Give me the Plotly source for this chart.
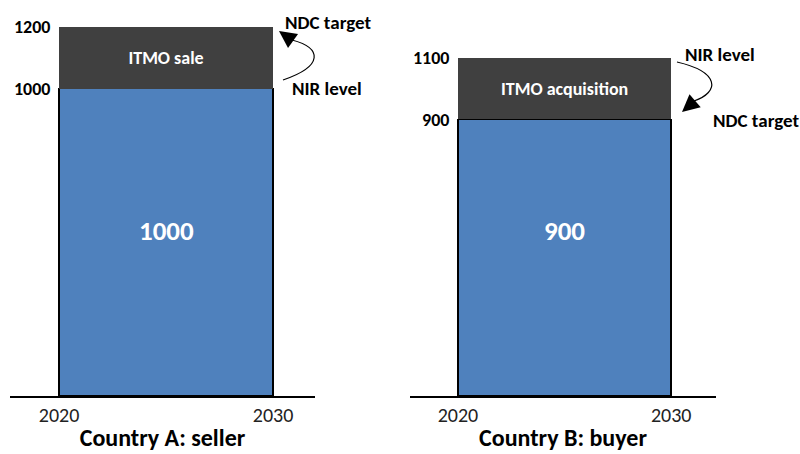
import plotly.graph_objects as go

# ---- data ----
years = [2020, 2030]
seller_base = [1000]
seller_itmo = [200]
buyer_base = [900]
buyer_itmo = [200]
seller_ticks = [1000, 1200]
buyer_ticks = [900, 1100]
seller_labels = ["ITMO sale", "1000"]
buyer_labels = ["ITMO acquisition", "900"]
titles = ["Country A: seller", "Country B: buyer"]

FONT = "Carlito, Calibri, Lato, sans-serif"
BLUE = "#4F81BD"
GRAY = "#404040"
W, H = 800, 454

def px(x):
    return x / W

def py(y):
    return 1 - y / H

xc = (years[0] + years[1]) / 2
bw = years[1] - years[0]

fig = go.Figure()

def add_panel(base, itmo, labels, xa, ya):
    fig.add_trace(go.Bar(
        x=[xc], y=base, width=bw, xaxis=xa, yaxis=ya,
        marker=dict(color=BLUE, line=dict(color="black", width=1.5)),
        hoverinfo="skip", showlegend=False))
    fig.add_trace(go.Bar(
        x=[xc], y=itmo, width=bw, xaxis=xa, yaxis=ya,
        marker=dict(color=GRAY, line=dict(color=GRAY, width=0)),
        text=[labels[0]], textposition="inside", insidetextanchor="middle",
        textfont=dict(family=FONT, size=18, color="white", weight="bold"),
        hoverinfo="skip", showlegend=False))
    # big value label inside the blue bar
    fig.add_annotation(text=labels[1], x=xc, xref=xa, y=py(231), yref="paper",
                       showarrow=False, xanchor="center", yanchor="middle",
                       font=dict(family=FONT, size=27, color="white", weight="bold"))

add_panel(seller_base, seller_itmo, seller_labels, "x", "y")
add_panel(buyer_base, buyer_itmo, buyer_labels, "x2", "y2")

ydom = [py(396), 1.0]
yrange = [0, 1200 * 396 / 369]

xcommon = dict(showgrid=False, zeroline=False, showline=True, linecolor="black", linewidth=1.5,
               ticks="", tickvals=years, ticktext=[str(v) for v in years], automargin=False,
               tickfont=dict(family=FONT, size=20, color="#222"))
ycommon = dict(domain=ydom, range=yrange, anchor="free", automargin=False,
               showgrid=False, zeroline=False, showline=False,
               ticks="outside", ticklen=5, tickcolor="rgba(0,0,0,0)",
               tickfont=dict(family=FONT, size=18, color="black", weight="bold"))
tfont = dict(family=FONT, size=24, color="black", weight="bold")

fig.update_layout(
    barmode="stack",
    width=W, height=H,
    margin=dict(l=0, r=0, t=0, b=0),
    paper_bgcolor="white", plot_bgcolor="white",
    xaxis=dict(domain=[px(10), px(315)], range=[2017.71, 2031.96], anchor="y",
               title=dict(text=titles[0], font=tfont, standoff=3), **xcommon),
    xaxis2=dict(domain=[px(410), px(716)], range=[2017.75, 2032.1], anchor="y2",
                title=dict(text=titles[1], font=tfont, standoff=3), **xcommon),
    yaxis=dict(position=px(59), tickvals=seller_ticks,
               ticktext=[str(v) for v in seller_ticks], **ycommon),
    yaxis2=dict(position=px(458), tickvals=buyer_ticks,
                ticktext=[str(v) for v in buyer_ticks], **ycommon),
)

# side labels
side = [
    ("NDC target", 283, 22),
    ("NIR level", 290, 89),
    ("NIR level", 683, 55),
    ("NDC target", 711, 120),
]
for txt, x0, y0 in side:
    fig.add_annotation(text=txt, x=px(x0), y=py(y0), xref="paper", yref="paper",
                       xanchor="left", yanchor="middle", showarrow=False,
                       font=dict(family=FONT, size=19, color="black", weight="bold"))

# curved connectors
def cpath(pts):
    (x0, y0), (c1x, c1y), (c2x, c2y), (x1, y1) = pts
    return (f"M {px(x0)},{py(y0)} C {px(c1x)},{py(c1y)} {px(c2x)},{py(c2y)} {px(x1)},{py(y1)}")

fig.add_shape(type="path", xref="paper", yref="paper",
              path=cpath([(283, 80), (324, 66), (322, 48), (292, 40)]),
              line=dict(color="black", width=1.2))
fig.add_shape(type="path", xref="paper", yref="paper",
              path=cpath([(677, 62), (720, 72), (720, 92), (694, 101)]),
              line=dict(color="black", width=1.2))

# arrowheads
for tip, ax, ay in [((279, 31), 14, 10), ((682, 112), 14, -12)]:
    fig.add_annotation(x=px(tip[0]), y=py(tip[1]), xref="paper", yref="paper",
                       text="", showarrow=True, arrowhead=2, arrowsize=2.3,
                       arrowwidth=1.5, arrowcolor="black", ax=ax, ay=ay, standoff=0)

fig.write_html("out.html", config={"displayModeBar": False},
               post_script="document.body.style.margin='0';document.body.style.overflow='hidden';")
